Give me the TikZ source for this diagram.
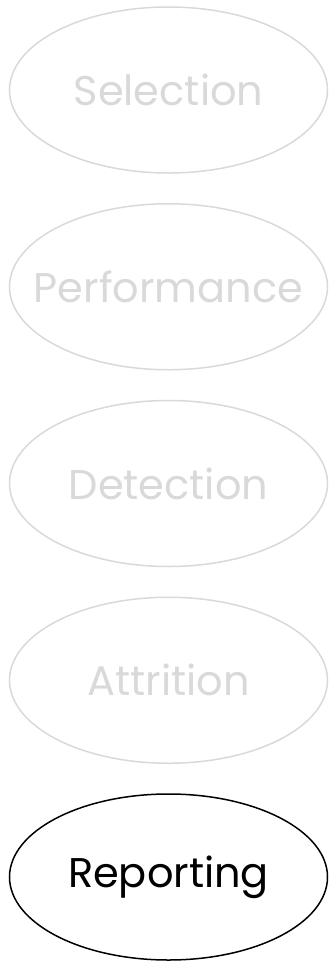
\documentclass[tikz,border=0pt]{standalone}
\usepackage{fontspec}
\setmainfont{Poppins}
\usetikzlibrary{shapes.geometric}
\definecolor{faded}{RGB}{217,217,217}
\newcommand{\nw}[1]{\makebox[0pt]{#1}}
\tikzset{
  stage/.style={draw, ellipse, line width=1.5pt, minimum width=318pt, minimum height=166pt, inner sep=0pt, font=\fontsize{41.5}{48}\selectfont},
  fadedstage/.style={stage, draw=faded, text=faded},
  activestage/.style={stage, draw=black, text=black}
}
\begin{document}
\begin{tikzpicture}[x=1pt,y=-1pt]
\useasboundingbox (0,0) rectangle (329,962);
\node[fadedstage] (sel) at (168.5,90) {\nw{Selection}};
\node[fadedstage] (perf) at (168.5,286.75) {\nw{Performance}};
\node[fadedstage] (det) at (168.5,483.5) {\nw{Detection}};
\node[fadedstage] (att) at (168.5,680.25) {\nw{Attrition}};
\node[activestage] (rep) at (168.5,877) {\nw{Reporting}};
\end{tikzpicture}
\end{document}
